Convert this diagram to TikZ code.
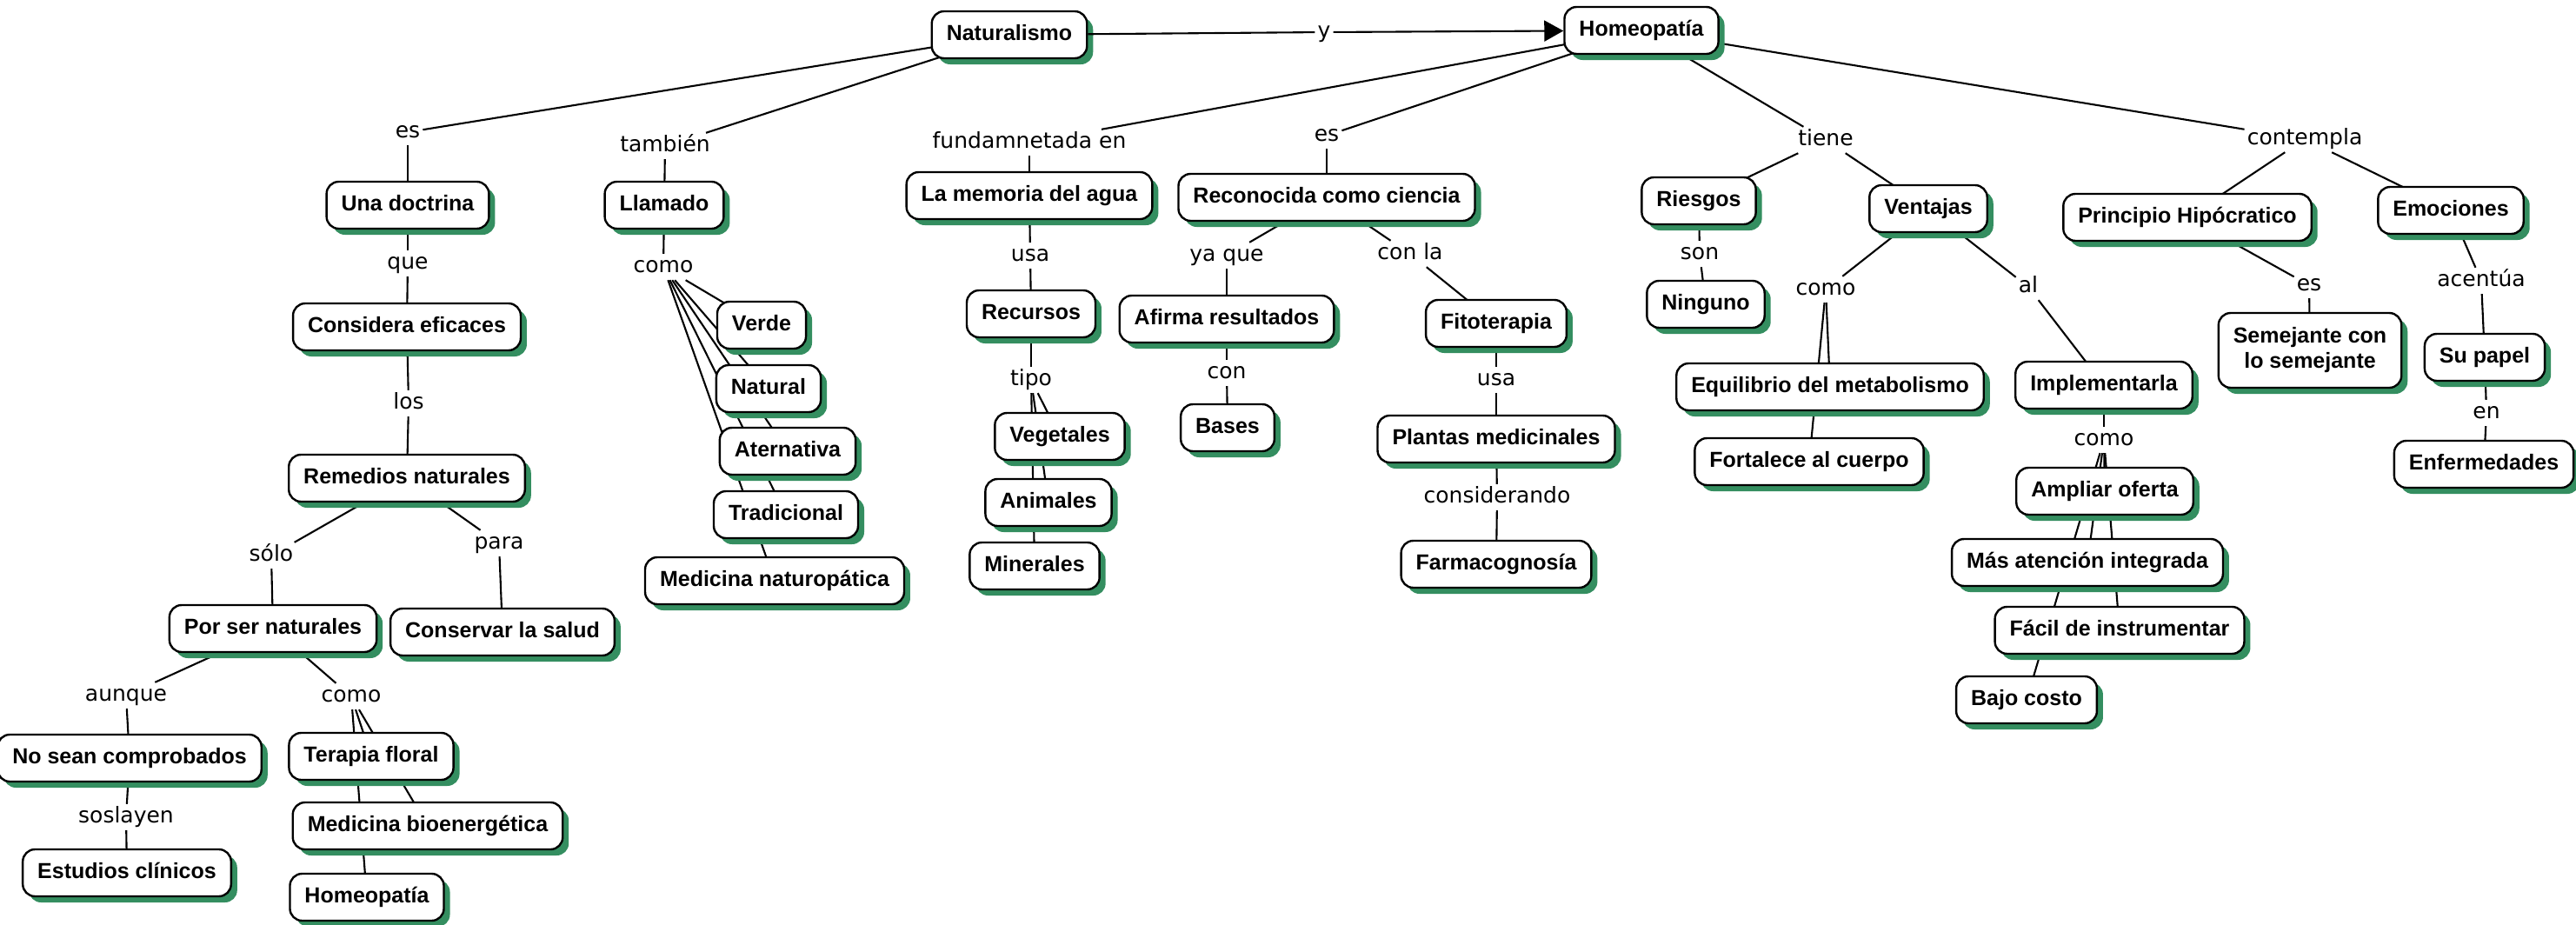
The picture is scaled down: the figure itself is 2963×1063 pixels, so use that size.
\documentclass[tikz,border=0pt]{standalone}
\usepackage{fontspec}
\setmainfont{Liberation Sans}
\newfontfamily\labfont{DejaVu Sans}
\usetikzlibrary{shadows,backgrounds,arrows.meta}
\definecolor{shgreen}{RGB}{52,142,96}
\tikzset{
  cbase/.style={draw=black, line width=2.4pt, fill=white, rounded corners=14pt,
    inner xsep=17pt, inner ysep=0pt, minimum height=54pt, align=center,
    font=\bfseries\fontsize{25pt}{29pt}\selectfont,
    general shadow={fill=shgreen, shadow xshift=7pt, shadow yshift=-7pt}},
  concept/.style={cbase, text height=18pt, text depth=5pt},
  lab/.style={font=\labfont\fontsize{25pt}{29pt}\selectfont, inner sep=3pt,
    text height=18.5pt, text depth=5.5pt},
  conn/.style={line width=2.1pt, black}
}
\begin{document}
\begin{tikzpicture}[x=1pt,y=-1pt]
\useasboundingbox (0,0) rectangle (2963,1063);
% concepts
\node[concept] (nat) at (1161,40) {Naturalismo};
\node[concept] (hom) at (1888,35) {Homeopatía};
\node[concept] (doc) at (469,236) {Una doctrina};
\node[concept] (llam) at (764,236) {Llamado};
\node[concept] (cons) at (468,376) {Considera eficaces};
\node[concept] (rem) at (468,550) {Remedios naturales};
\node[concept] (por) at (314,723) {Por ser naturales};
\node[concept] (consv) at (578,727) {Conservar la salud};
\node[concept] (nosean) at (149,872) {No sean comprobados};
\node[concept] (est) at (146,1004) {Estudios clínicos};
\node[concept] (ter) at (427,870) {Terapia floral};
\node[concept] (medbio) at (492,950) {Medicina bioenergética};
\node[concept] (homb) at (422,1032) {Homeopatía};
\node[concept] (verde) at (876,374) {Verde};
\node[concept] (natu) at (884,447) {Natural};
\node[concept] (atern) at (906,519) {Aternativa};
\node[concept] (trad) at (904,592) {Tradicional};
\node[concept] (mednat) at (891,668) {Medicina naturopática};
\node[concept] (mem) at (1184,225) {La memoria del agua};
\node[concept] (recur) at (1186,361) {Recursos};
\node[concept] (veg) at (1219,502) {Vegetales};
\node[concept] (ani) at (1206,578) {Animales};
\node[concept] (mine) at (1190,651) {Minerales};
\node[concept] (reco) at (1526,227) {Reconocida como ciencia};
\node[concept] (afir) at (1411,367) {Afirma resultados};
\node[concept] (bases) at (1412,492) {Bases};
\node[concept] (fito) at (1721,372) {Fitoterapia};
\node[concept] (plan) at (1721,505) {Plantas medicinales};
\node[concept] (farm) at (1721,649) {Farmacognosía};
\node[concept] (ries) at (1954,231) {Riesgos};
\node[concept] (ning) at (1962,350) {Ninguno};
\node[concept] (vent) at (2218,240) {Ventajas};
\node[concept] (equi) at (2105,445) {Equilibrio del metabolismo};
\node[concept] (fort) at (2081,531) {Fortalece al cuerpo};
\node[concept] (impl) at (2420,443) {Implementarla};
\node[concept] (ampl) at (2421,565) {Ampliar oferta};
\node[concept] (mas) at (2401,647) {Más atención integrada};
\node[concept] (fac) at (2438,725) {Fácil de instrumentar};
\node[concept] (bajo) at (2331,805) {Bajo costo};
\node[concept] (prin) at (2516,250) {Principio Hipócratico};
\node[cbase, minimum height=86pt] (seme) at (2657,403) {Semejante con\\lo semejante};
\node[concept] (emo) at (2819,242) {Emociones};
\node[concept] (supa) at (2858,411) {Su papel};
\node[concept] (enf) at (2857,534) {Enfermedades};
% linking phrases
\node[lab] (ly) at (1523,37) {y};
\node[lab] (les1) at (469,152) {es};
\node[lab] (ltamb) at (765,168) {también};
\node[lab] (lque) at (469,303) {que};
\node[lab] (lcomoa) at (763,307) {como};
\node[lab] (llos) at (470,464) {los};
\node[lab] (lsolo) at (312,639) {sólo};
\node[lab] (lpara) at (574,625) {para};
\node[lab] (laun) at (145,800) {aunque};
\node[lab] (lcomob) at (404,801) {como};
\node[lab] (lsos) at (145,940) {soslayen};
\node[lab] (lfund) at (1184,164) {fundamnetada en};
\node[lab] (les2) at (1526,156) {es};
\node[lab] (lusaa) at (1185,294) {usa};
\node[lab] (ltipo) at (1186,437) {tipo};
\node[lab] (lyaque) at (1411,294) {ya que};
\node[lab] (lconla) at (1622,292) {con la};
\node[lab] (lcon) at (1411,429) {con};
\node[lab] (lusab) at (1721,437) {usa};
\node[lab] (lconsid) at (1722,572) {considerando};
\node[lab] (ltiene) at (2100,161) {tiene};
\node[lab] (lson) at (1955,292) {son};
\node[lab] (lcomoc) at (2100,333) {como};
\node[lab] (lal) at (2333,330) {al};
\node[lab] (lcomod) at (2420,506) {como};
\node[lab] (lcont) at (2651,160) {contempla};
\node[lab] (les3) at (2656,328) {es};
\node[lab] (lacen) at (2854,323) {acentúa};
\node[lab] (len) at (2860,475) {en};
% arrow Naturalismo - y - Homeopatia
\draw[conn] (nat) -- (ly);
\draw[conn,-{Triangle[length=22pt,width=24pt]}] (ly) -- (hom);
% connectors
\begin{scope}[on background layer]
\draw[conn] (les1) -- (nat.center);
\draw[conn] (les1) -- (doc.center);
\draw[conn] (ltamb) -- (nat.center);
\draw[conn] (ltamb) -- (llam.center);
\draw[conn] (lque) -- (doc.center);
\draw[conn] (lque) -- (cons.center);
\draw[conn] (llos) -- (cons.center);
\draw[conn] (llos) -- (rem.center);
\draw[conn] (lsolo) -- (rem.center);
\draw[conn] (lsolo) -- (por.center);
\draw[conn] (lpara) -- (rem.center);
\draw[conn] (lpara) -- (consv.center);
\draw[conn] (laun) -- (por.center);
\draw[conn] (laun) -- (nosean.center);
\draw[conn] (lsos) -- (nosean.center);
\draw[conn] (lsos) -- (est.center);
\draw[conn] (lcomob) -- (por.center);
\draw[conn] (lcomob) -- (ter.center);
\draw[conn] (lcomob) -- (medbio.center);
\draw[conn] (lcomob) -- (homb.center);
\draw[conn] (lcomoa) -- (llam.center);
\draw[conn] (lcomoa) -- (verde.center);
\draw[conn] (lcomoa) -- (natu.center);
\draw[conn] (lcomoa) -- (atern.center);
\draw[conn] (lcomoa) -- (trad.center);
\draw[conn] (lcomoa) -- (mednat.center);
\draw[conn] (lfund) -- (hom.center);
\draw[conn] (lfund) -- (mem.center);
\draw[conn] (lusaa) -- (mem.center);
\draw[conn] (lusaa) -- (recur.center);
\draw[conn] (ltipo) -- (recur.center);
\draw[conn] (ltipo) -- (veg.center);
\draw[conn] (ltipo) -- (ani.center);
\draw[conn] (ltipo) -- (mine.center);
\draw[conn] (les2) -- (hom.center);
\draw[conn] (les2) -- (reco.center);
\draw[conn] (lyaque) -- (reco.center);
\draw[conn] (lyaque) -- (afir.center);
\draw[conn] (lcon) -- (afir.center);
\draw[conn] (lcon) -- (bases.center);
\draw[conn] (lconla) -- (reco.center);
\draw[conn] (lconla) -- (fito.center);
\draw[conn] (lusab) -- (fito.center);
\draw[conn] (lusab) -- (plan.center);
\draw[conn] (lconsid) -- (plan.center);
\draw[conn] (lconsid) -- (farm.center);
\draw[conn] (ltiene) -- (hom.center);
\draw[conn] (ltiene) -- (ries.center);
\draw[conn] (ltiene) -- (vent.center);
\draw[conn] (lson) -- (ries.center);
\draw[conn] (lson) -- (ning.center);
\draw[conn] (lcomoc) -- (vent.center);
\draw[conn] (lcomoc) -- (equi.center);
\draw[conn] (lcomoc) -- (fort.center);
\draw[conn] (lal) -- (vent.center);
\draw[conn] (lal) -- (impl.center);
\draw[conn] (lcomod) -- (impl.center);
\draw[conn] (lcomod) -- (ampl.center);
\draw[conn] (lcomod) -- (mas.center);
\draw[conn] (lcomod) -- (fac.center);
\draw[conn] (lcomod) -- (bajo.center);
\draw[conn] (lcont) -- (hom.center);
\draw[conn] (lcont) -- (prin.center);
\draw[conn] (lcont) -- (emo.center);
\draw[conn] (les3) -- (prin.center);
\draw[conn] (les3) -- (seme.center);
\draw[conn] (lacen) -- (emo.center);
\draw[conn] (lacen) -- (supa.center);
\draw[conn] (len) -- (supa.center);
\draw[conn] (len) -- (enf.center);
\end{scope}
\end{tikzpicture}
\end{document}
